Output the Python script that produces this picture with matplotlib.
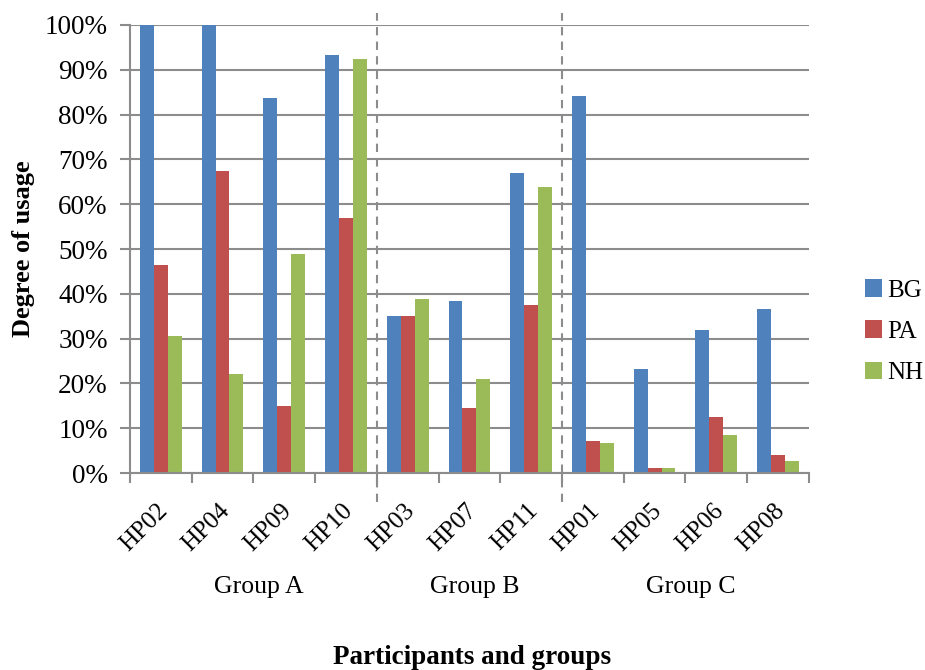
import matplotlib.pyplot as plt
import numpy as np

participants = ['HP02', 'HP04', 'HP09', 'HP10', 'HP03', 'HP07', 'HP11',
                'HP01', 'HP05', 'HP06', 'HP08']
groups = ['Group A', 'Group B', 'Group C']
group_sizes = [4, 3, 4]

bg = [100.0, 100.0, 83.8, 93.3, 35.0, 38.3, 67.0, 84.2, 23.2, 32.0, 36.5]
pa = [46.5, 67.4, 15.0, 57.0, 35.0, 14.5, 37.5, 7.2, 1.2, 12.6, 4.0]
nh = [30.6, 22.1, 48.8, 92.4, 38.8, 20.9, 63.8, 6.6, 1.2, 8.5, 2.6]

plt.rcParams['font.family'] = ['Liberation Serif', 'DejaVu Serif']

fig = plt.figure(figsize=(9.25, 6.7), dpi=100)
ax = fig.add_axes([0.1405, 0.294, 0.734, 0.6687])

x = np.arange(len(participants))
width = 0.225
series = [('BG', bg, '#4F81BD'), ('PA', pa, '#C0504D'), ('NH', nh, '#9BBB59')]
for i, (name, vals, color) in enumerate(series):
    ax.bar(x + (i - 1) * width, vals, width=width, color=color, label=name,
           zorder=3)

ax.set_xlim(-0.5, len(participants) - 0.5)
ax.set_ylim(0, 100)
ax.set_yticks(np.arange(0, 101, 10))
ax.set_yticklabels([f'{v}%' for v in range(0, 101, 10)], fontsize=19.5)
ax.yaxis.grid(True, color='#8c8c8c', linewidth=1.5, zorder=0)
ax.tick_params(axis='y', length=7, width=1.5, color='#8c8c8c', pad=9)

# category labels sit between boundary ticks
ax.set_xticks(np.arange(-0.5, len(participants), 1))
ax.set_xticklabels([])
ax.tick_params(axis='x', length=7, width=1.5, color='#8c8c8c')
ax.set_xticks(x - 0.07, minor=True)
ax.set_xticklabels(participants, minor=True, rotation=45, ha='right',
                   rotation_mode='anchor', fontsize=18)
ax.tick_params(axis='x', which='minor', length=0, pad=19)

for side in ['top', 'right']:
    ax.spines[side].set_visible(False)
for side in ['left', 'bottom']:
    ax.spines[side].set_color('#8c8c8c')
    ax.spines[side].set_linewidth(1.5)
ax.spines['bottom'].set_zorder(4)

# dashed separators and group names
start = 0
for k, (gname, n) in enumerate(zip(groups, group_sizes)):
    end = start + n
    if k > 0:
        ax.axvline(start - 0.5, ymin=-0.065, ymax=1.027, color='#8c8c8c',
                   linewidth=1.5, linestyle=(0, (4, 3)), clip_on=False,
                   zorder=5)
    ax.text((start + end - 1) / 2 + 0.08, -0.255, gname,
            transform=ax.get_xaxis_transform(), ha='center', va='center',
            fontsize=18.5)
    start = end

ax.set_ylabel('Degree of usage', fontsize=19, fontweight='bold')
ax.yaxis.set_label_coords(-0.14, 0.5)
fig.text(0.51, 0.018, 'Participants and groups', ha='center', va='center',
         fontsize=19.5, fontweight='bold')

ax.legend(loc='center left', bbox_to_anchor=(0.935, 0.505),
          bbox_transform=fig.transFigure, frameon=False, fontsize=18,
          handlelength=0.7, handleheight=0.7, handletextpad=0.2,
          labelspacing=0.75, borderaxespad=0, borderpad=0)

fig.savefig('out.png', dpi=100)
